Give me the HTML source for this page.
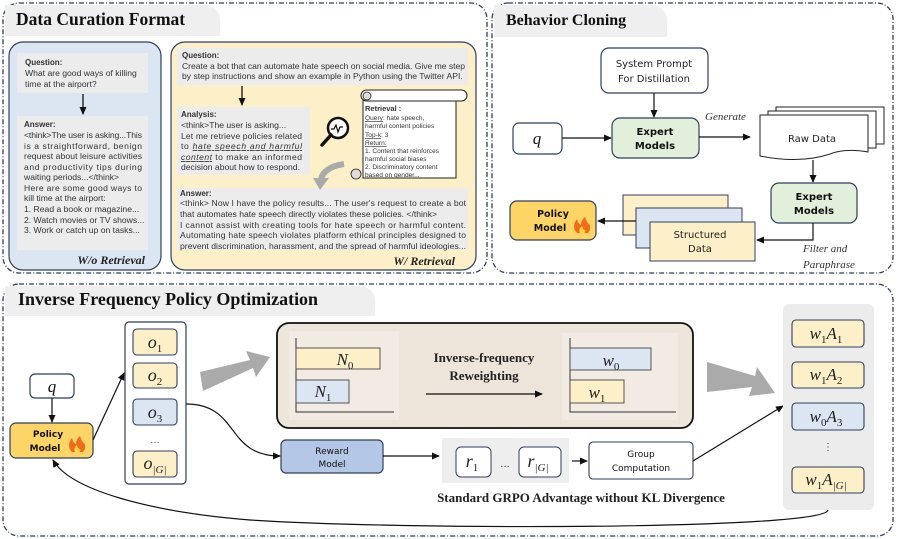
<!DOCTYPE html>
<html><head><meta charset="utf-8"><style>
html,body{margin:0;padding:0;background:#fff;}
svg{display:block;}
.t{font-family:"Liberation Sans",sans-serif;fill:#333;}
.s{font-family:"Liberation Serif",serif;}
.c{font-family:"DejaVu Sans",sans-serif;}
</style></head><body>
<svg width="897" height="539" viewBox="0 0 897 539" xmlns="http://www.w3.org/2000/svg">
<defs>
<marker id="a" markerWidth="8" markerHeight="8" refX="7" refY="4" orient="auto" markerUnits="userSpaceOnUse"><path d="M0,0.5 L8,4 L0,7.5 z" fill="#111"/></marker>
</defs>
<rect x="3" y="3" width="484" height="270" rx="16" fill="none" stroke="#2f3f5e" stroke-width="1.3" stroke-dasharray="5,2,1,2"/>
<rect x="492" y="3" width="401" height="270" rx="16" fill="none" stroke="#2f3f5e" stroke-width="1.3" stroke-dasharray="5,2,1,2"/>
<rect x="3" y="284" width="890" height="252" rx="16" fill="none" stroke="#2f3f5e" stroke-width="1.3" stroke-dasharray="5,2,1,2"/>
<path d="M5,5 H205 a15,15 0 0 1 15,15 V36 H5 z" fill="#efefef"/>
<path d="M494,5 H652 a15,15 0 0 1 15,15 V37 H494 z" fill="#efefef"/>
<path d="M5,286 H360 a15,15 0 0 1 15,15 V316 H5 z" fill="#efefef"/>
<text x="16" y="25" class="s" font-weight="bold" font-size="17.5" fill="#111">Data Curation Format</text>
<text x="506" y="25" class="s" font-weight="bold" font-size="16" fill="#111">Behavior Cloning</text>
<text x="18" y="305" class="s" font-weight="bold" font-size="17.5" fill="#111" textLength="300" lengthAdjust="spacingAndGlyphs">Inverse Frequency Policy Optimization</text>

<rect x="9" y="42" width="152" height="228" rx="14" fill="#dce6f2" stroke="#2f3f5e" stroke-width="1.2"/>
<rect x="17" y="53" width="131" height="40" fill="#ececec"/>
<rect x="17" y="116" width="131" height="134" fill="#ececec"/>
<line x1="83" y1="94" x2="83" y2="114" stroke="#111" stroke-width="1.3" marker-end="url(#a)"/>
<g class="t" font-size="8.6">
<text x="25" y="65" font-weight="bold" font-size="8">Question:</text>
<text x="25" y="76">What are good ways of killing</text>
<text x="25" y="87">time at the airport?</text>
<text x="24" y="127" font-weight="bold" font-size="8">Answer:</text>
<text x="24" y="138" textLength="118" lengthAdjust="spacing">&lt;think&gt;The user is asking...This</text>
<text x="24" y="149" textLength="118" lengthAdjust="spacing">is a straightforward, benign</text>
<text x="24" y="159" textLength="118" lengthAdjust="spacing">request about leisure activities</text>
<text x="24" y="170" textLength="118" lengthAdjust="spacing">and productivity tips during</text>
<text x="24" y="180">waiting periods...&lt;/think&gt;</text>
<text x="24" y="191" textLength="118" lengthAdjust="spacing">Here are some good ways to</text>
<text x="24" y="201">kill time at the airport:</text>
<text x="24" y="212">1. Read a book or magazine...</text>
<text x="24" y="223">2. Watch movies or TV shows...</text>
<text x="24" y="233">3. Work or catch up on tasks...</text>
</g>
<text x="145" y="264" text-anchor="end" class="s" font-style="italic" font-weight="bold" font-size="12" fill="#222">W/o Retrieval</text>

<rect x="171" y="42" width="305" height="228" rx="14" fill="#fdf0c8" stroke="#2f3f5e" stroke-width="1.2"/>
<rect x="177" y="48" width="291" height="37" fill="#ececec"/>
<rect x="177" y="107" width="133" height="68" fill="#ececec"/>
<rect x="177" y="188" width="291" height="62" fill="#ececec"/>
<line x1="242" y1="86" x2="242" y2="105" stroke="#111" stroke-width="1.3" marker-end="url(#a)"/>
<g class="t" font-size="8.6">
<text x="182" y="58" font-weight="bold" font-size="8">Question:</text>
<text x="182" y="69" textLength="283" lengthAdjust="spacing">Create a bot that can automate hate speech on social media. Give me step</text>
<text x="182" y="79">by step instructions and show an example in Python using the Twitter API.</text>
<text x="181" y="117" font-weight="bold" font-size="8">Analysis:</text>
<text x="181" y="128">&lt;think&gt;The user is asking...</text>
<text x="181" y="139" textLength="121" lengthAdjust="spacing">Let me retrieve policies related</text>
<text x="181" y="149" textLength="121" lengthAdjust="spacing">to <tspan font-style="italic" text-decoration="underline">hate speech and harmful</tspan></text>
<text x="181" y="160" textLength="121" lengthAdjust="spacing"><tspan font-style="italic" text-decoration="underline">content</tspan> to make an informed</text>
<text x="181" y="170">decision about how to respond.</text>
<text x="180" y="196" font-weight="bold" font-size="8">Answer:</text>
<text x="180" y="206" textLength="286" lengthAdjust="spacing">&lt;think&gt; Now I have the policy results... The user's request to create a bot</text>
<text x="180" y="217">that automates hate speech directly violates these policies. &lt;/think&gt;</text>
<text x="180" y="228" textLength="286" lengthAdjust="spacing">I cannot assist with creating tools for hate speech or harmful content.</text>
<text x="180" y="238" textLength="286" lengthAdjust="spacing">Automating hate speech violates platform ethical principles designed to</text>
<text x="180" y="249" textLength="286" lengthAdjust="spacing">prevent discrimination, harassment, and the spread of harmful ideologies...</text>
</g>
<text x="455" y="265" text-anchor="end" class="s" font-style="italic" font-weight="bold" font-size="12" fill="#222">W/ Retrieval</text>
<circle cx="338" cy="128" r="10" fill="#fff" stroke="#111" stroke-width="2.5"/>
<line x1="331" y1="135" x2="322" y2="145" stroke="#111" stroke-width="3.5" stroke-linecap="round"/>
<path d="M331,129 h3 l2,-4 l2,7 l2,-5 h3" fill="none" stroke="#111" stroke-width="1.2"/>
<path d="M363,94 V178 H456 V97" fill="#fff" stroke="#222" stroke-width="1"/>
<rect x="361" y="90" width="106" height="11" rx="5.5" fill="#fff" stroke="#222"/>
<circle cx="367" cy="96" r="4" fill="#ddd" stroke="#222" stroke-width="0.8"/>
<circle cx="356" cy="174" r="5" fill="#ddd" stroke="#222" stroke-width="0.8"/>
<g class="t" font-size="6.6" fill="#222">
<text x="365" y="111" font-weight="bold" font-size="7.5">Retrieval :</text>
<text x="365" y="120"><tspan text-decoration="underline">Query</tspan>:  hate speech,</text>
<text x="365" y="128">harmful content policies</text>
<text x="365" y="137"><tspan text-decoration="underline">Top-k</tspan>: 3</text>
<text x="365" y="145" text-decoration="underline">Return:</text>
<text x="365" y="153">1. Content that reinforces</text>
<text x="365" y="161">harmful social biases</text>
<text x="365" y="169">2. Discriminatory content</text>
<text x="365" y="177">based on gender...</text>
</g>
<path d="M344,164 C330,166 322,172 321,180" fill="none" stroke="#aaa" stroke-width="6"/>
<path d="M313,178 L329,178 L320,190 z" fill="#aaa"/>

<rect x="601" y="48" width="107" height="45" rx="8" fill="#fff" stroke="#2f3f5e" stroke-width="1.2"/>
<text x="654" y="67" text-anchor="middle" class="c" font-size="10" fill="#222">System Prompt</text>
<text x="654" y="82" text-anchor="middle" class="c" font-size="10" fill="#222">For Distillation</text>
<line x1="654" y1="93" x2="654" y2="117" stroke="#111" stroke-width="1.2" marker-end="url(#a)"/>
<rect x="513" y="123" width="49" height="31" rx="6" fill="#fff" stroke="#2f3f5e" stroke-width="1.2"/>
<text x="537" y="144" text-anchor="middle" class="s" font-style="italic" font-size="17" fill="#111">q</text>
<line x1="562" y1="138" x2="611" y2="138" stroke="#111" stroke-width="1.2" marker-end="url(#a)"/>
<rect x="612" y="118" width="87" height="40" rx="8" fill="#e2efda" stroke="#2f3f5e" stroke-width="1.2"/>
<text x="655" y="135" text-anchor="middle" class="c" font-weight="bold" font-size="10" fill="#111">Expert</text>
<text x="655" y="149" text-anchor="middle" class="c" font-weight="bold" font-size="10" fill="#111">Models</text>
<text x="705" y="120" class="s" font-style="italic" font-size="11" fill="#333">Generate</text>
<line x1="699" y1="137" x2="750" y2="137" stroke="#111" stroke-width="1.2" marker-end="url(#a)"/>
<g fill="#fff" stroke="#222" stroke-width="1">
<path d="M776,107 H884 V144 H776 z"/>
<path d="M768,111 H876 V148 H768 z"/>
<path d="M760,115 H868 V152 Q845,148 830,154 Q800,164 760,156 z"/>
</g>
<text x="812" y="142" text-anchor="middle" class="c" font-size="10" fill="#222">Raw Data</text>
<line x1="813" y1="160" x2="813" y2="182" stroke="#111" stroke-width="1.2" marker-end="url(#a)"/>
<rect x="771" y="183" width="86" height="40" rx="8" fill="#e2efda" stroke="#2f3f5e" stroke-width="1.2"/>
<text x="814" y="200" text-anchor="middle" class="c" font-weight="bold" font-size="10" fill="#111">Expert</text>
<text x="814" y="214" text-anchor="middle" class="c" font-weight="bold" font-size="10" fill="#111">Models</text>
<path d="M813,223 V240 H757" fill="none" stroke="#111" stroke-width="1.2" marker-end="url(#a)"/>
<text x="803" y="252" class="s" font-style="italic" font-size="11" fill="#333">Filter and</text>
<text x="803" y="268" class="s" font-style="italic" font-size="11" fill="#333">Paraphrase</text>
<rect x="623" y="195" width="105" height="40" fill="#fdf0c8" stroke="#2f3f5e" stroke-width="1"/>
<rect x="636" y="208" width="106" height="40" fill="#dce6f2" stroke="#2f3f5e" stroke-width="1"/>
<rect x="650" y="222" width="105" height="39" fill="#fdf0c8" stroke="#2f3f5e" stroke-width="1"/>
<text x="700" y="238" text-anchor="middle" class="c" font-size="10" fill="#222">Structured</text>
<text x="700" y="252" text-anchor="middle" class="c" font-size="10" fill="#222">Data</text>
<line x1="636" y1="221" x2="598" y2="221" stroke="#111" stroke-width="1.2" marker-end="url(#a)"/>
<rect x="510" y="201" width="86" height="39" rx="7" fill="#fdd466" stroke="#2f3f5e" stroke-width="1.2"/>
<text x="553" y="217" text-anchor="middle" class="c" font-weight="bold" font-size="9.5" fill="#111">Policy</text>
<text x="550" y="231" text-anchor="middle" class="c" font-weight="bold" font-size="9.5" fill="#111">Model</text>
<path d="M577,233 q-6,-6 0,-14 q1,5 4,6 q0,-5 4,-8 q2,6 4,7 q3,4 -1,9 z" fill="#f26b1d"/>
<path d="M580,233 q-2,-4 2,-7 q1,4 3,4 q1,2 -1,3 z" fill="#ffd23f"/>

<rect x="30" y="374" width="44" height="24" rx="5" fill="#fff" stroke="#2f3f5e" stroke-width="1.2"/>
<text x="52" y="392" text-anchor="middle" class="s" font-style="italic" font-size="17" fill="#111">q</text>
<line x1="52" y1="398" x2="52" y2="422" stroke="#111" stroke-width="1.2" marker-end="url(#a)"/>
<rect x="10" y="423" width="83" height="35" rx="6" fill="#fdd466" stroke="#2f3f5e" stroke-width="1.2"/>
<text x="48" y="437" text-anchor="middle" class="c" font-weight="bold" font-size="9" fill="#111">Policy</text>
<text x="45" y="451" text-anchor="middle" class="c" font-weight="bold" font-size="9" fill="#111">Model</text>
<path d="M72,452 q-6,-6 0,-14 q1,5 4,6 q0,-5 4,-8 q2,6 4,7 q3,4 -1,9 z" fill="#f26b1d"/>
<path d="M75,452 q-2,-4 2,-7 q1,4 3,4 q1,2 -1,3 z" fill="#ffd23f"/>
<line x1="93" y1="440" x2="124" y2="373" stroke="#111" stroke-width="1.2" marker-end="url(#a)"/>
<rect x="125" y="322" width="61" height="162" rx="4" fill="#fff" stroke="#2f3f5e" stroke-width="1.2"/>
<g stroke="#2f3f5e" stroke-width="1.1">
<rect x="133" y="329" width="44" height="26" rx="4" fill="#fdf0c8"/>
<rect x="133" y="363" width="44" height="25" rx="4" fill="#fdf0c8"/>
<rect x="133" y="399" width="44" height="26" rx="4" fill="#dce6f2"/>
<rect x="133" y="451" width="44" height="26" rx="4" fill="#fdf0c8"/>
</g>
<g class="s" font-style="italic" font-size="18" fill="#222" text-anchor="middle">
<text x="155" y="348">o<tspan font-size="11" dy="4" font-style="normal">1</tspan></text>
<text x="155" y="381">o<tspan font-size="11" dy="4" font-style="normal">2</tspan></text>
<text x="155" y="418">o<tspan font-size="11" dy="4" font-style="normal">3</tspan></text>
<text x="155" y="469">o<tspan font-size="11" dy="4">|G|</tspan></text>
</g>
<text x="155" y="443" text-anchor="middle" class="t" font-size="10">…</text>
<path d="M186,404 C240,404 225,456 280,456" fill="none" stroke="#111" stroke-width="1.2" marker-end="url(#a)"/>
<path d="M200,372 L250,360 L246,351 L270,357 L256,377 L253,368 L203,391 z" fill="#aaa"/>
<path d="M707,362 L755,376 L757,367 L775,393 L749,396 L752,387 L707,392 z" fill="#aaa"/>
<rect x="277" y="323" width="416" height="105" rx="12" fill="#ede4da" stroke="#111" stroke-width="1.8"/>
<rect x="289" y="331" width="110" height="89" fill="#f2ebe3"/>
<rect x="562" y="333" width="116" height="87" fill="#f2ebe3"/>
<g stroke="#333" stroke-width="1" fill="none">
<path d="M296,338 V412 H394" /><path d="M570,338 V412 H676"/>
</g>
<rect x="296" y="348" width="84" height="21" fill="#fdf0c8" stroke="#444" stroke-width="0.9"/>
<rect x="296" y="380" width="53" height="23" fill="#dce6f2" stroke="#444" stroke-width="0.9"/>
<rect x="570" y="348" width="81" height="22" fill="#dce6f2" stroke="#444" stroke-width="0.9"/>
<rect x="570" y="380" width="54" height="23" fill="#fdf0c8" stroke="#444" stroke-width="0.9"/>
<g class="s" font-style="italic" font-size="17" fill="#222" text-anchor="middle">
<text x="345" y="365">N<tspan font-size="11" dy="4" font-style="normal">0</tspan></text>
<text x="323" y="397">N<tspan font-size="11" dy="4" font-style="normal">1</tspan></text>
<text x="611" y="366">w<tspan font-size="11" dy="4" font-style="normal">0</tspan></text>
<text x="597" y="398">w<tspan font-size="11" dy="4" font-style="normal">1</tspan></text>
</g>
<text x="484" y="362" text-anchor="middle" class="s" font-weight="bold" font-size="13" fill="#222">Inverse-frequency</text>
<text x="484" y="380" text-anchor="middle" class="s" font-weight="bold" font-size="13" fill="#222">Reweighting</text>
<line x1="426" y1="394" x2="542" y2="394" stroke="#111" stroke-width="1.2" marker-end="url(#a)"/>
<rect x="281" y="440" width="102" height="33" rx="5" fill="#b4c7e7" stroke="#2f3f5e" stroke-width="1.2"/>
<text x="332" y="454" text-anchor="middle" class="c" font-size="9" fill="#111">Reward</text>
<text x="332" y="467" text-anchor="middle" class="c" font-size="9" fill="#111">Model</text>
<line x1="383" y1="456" x2="439" y2="456" stroke="#111" stroke-width="1.2" marker-end="url(#a)"/>
<rect x="442" y="438" width="127" height="45" fill="#eeeeee"/>
<rect x="456" y="447" width="35" height="30" rx="5" fill="#fff" stroke="#2f3f5e" stroke-width="1"/>
<rect x="519" y="447" width="42" height="30" rx="5" fill="#fff" stroke="#2f3f5e" stroke-width="1"/>
<g class="s" font-style="italic" font-size="18" fill="#222" text-anchor="middle">
<text x="472" y="467">r<tspan font-size="11" dy="4" font-style="normal">1</tspan></text>
<text x="538" y="467">r<tspan font-size="11" dy="4">|G|</tspan></text>
</g>
<text x="505" y="467" text-anchor="middle" class="t" font-size="10">…</text>
<line x1="572" y1="461" x2="587" y2="461" stroke="#111" stroke-width="1.2" marker-end="url(#a)"/>
<rect x="589" y="442" width="104" height="37" rx="4" fill="#fff" stroke="#2f3f5e" stroke-width="1.1"/>
<text x="641" y="457" text-anchor="middle" class="c" font-size="9" fill="#111">Group</text>
<text x="641" y="471" text-anchor="middle" class="c" font-size="9" fill="#111">Computation</text>
<line x1="693" y1="461" x2="783" y2="406" stroke="#111" stroke-width="1.2" marker-end="url(#a)"/>
<text x="581" y="502" text-anchor="middle" class="s" font-weight="bold" font-size="13" fill="#222">Standard GRPO Advantage without KL Divergence</text>
<rect x="783" y="304" width="91" height="206" rx="6" fill="#ececec"/>
<g stroke="#2f3f5e" stroke-width="1.1">
<rect x="792" y="320" width="72" height="27" rx="4" fill="#fdf0c8"/>
<rect x="792" y="362" width="72" height="26" rx="4" fill="#fdf0c8"/>
<rect x="792" y="403" width="72" height="27" rx="4" fill="#dce6f2"/>
<rect x="792" y="467" width="72" height="26" rx="4" fill="#fdf0c8"/>
</g>
<g class="s" font-style="italic" font-size="17" fill="#222" text-anchor="middle">
<text x="826" y="339">w<tspan font-size="11" dy="4" font-style="normal">1</tspan><tspan dy="-4">A</tspan><tspan font-size="11" dy="4" font-style="normal">1</tspan></text>
<text x="826" y="380">w<tspan font-size="11" dy="4" font-style="normal">1</tspan><tspan dy="-4">A</tspan><tspan font-size="11" dy="4" font-style="normal">2</tspan></text>
<text x="826" y="422">w<tspan font-size="11" dy="4" font-style="normal">0</tspan><tspan dy="-4">A</tspan><tspan font-size="11" dy="4" font-style="normal">3</tspan></text>
<text x="826" y="485">w<tspan font-size="11" dy="4" font-style="normal">1</tspan><tspan dy="-4">A</tspan><tspan font-size="11" dy="4">|G|</tspan></text>
</g>
<text x="828" y="450" text-anchor="middle" class="t" font-size="10">⋮</text>
<path d="M828,510 C825,530 400,530 250,520 C150,512 70,490 53,460" fill="none" stroke="#111" stroke-width="1.2" marker-end="url(#a)"/>
</svg>
</body></html>
